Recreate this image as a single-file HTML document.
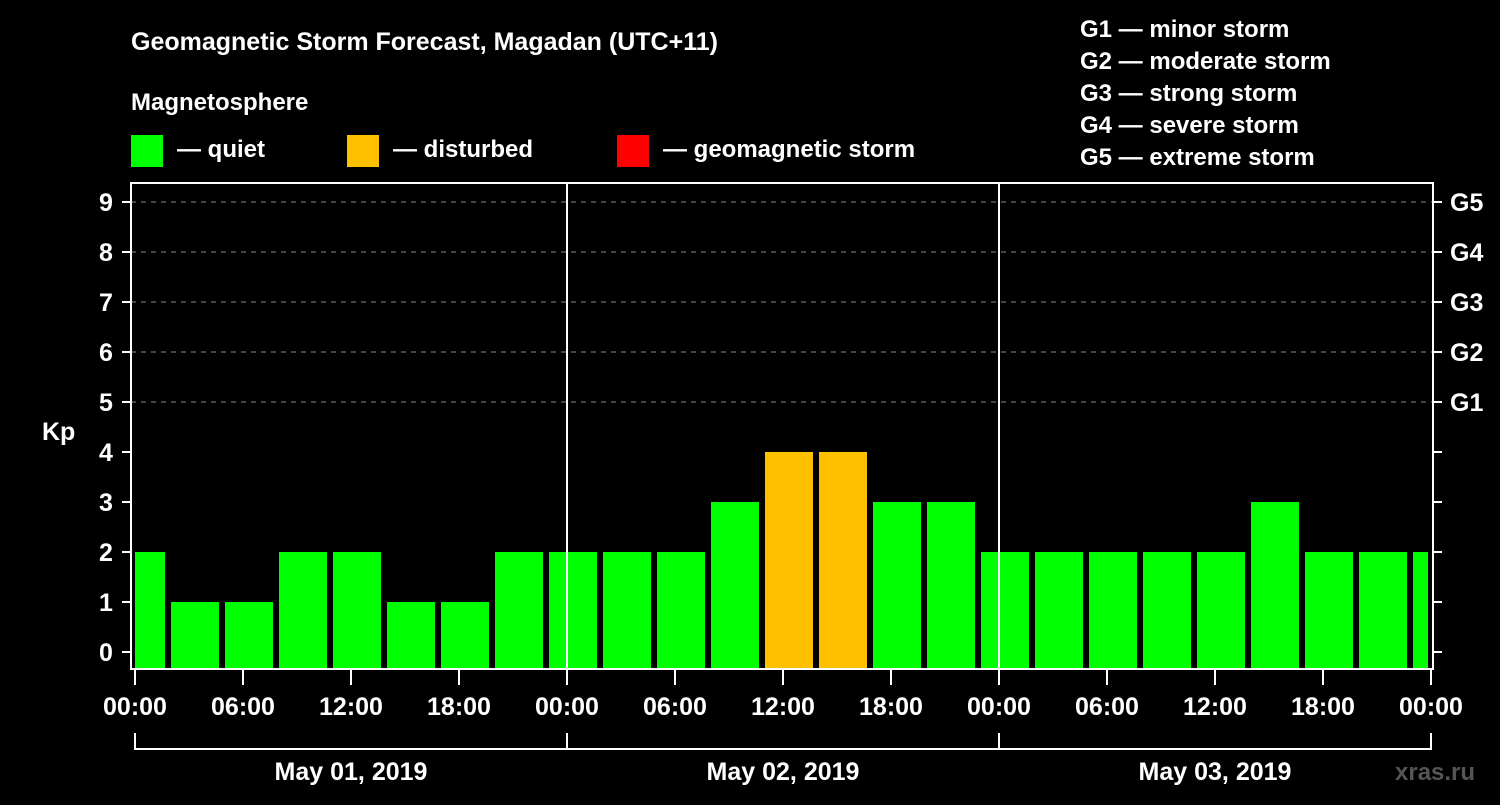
<!DOCTYPE html>
<html><head><meta charset="utf-8"><style>
body{margin:0;background:#000;width:1500px;height:800px;overflow:hidden}
svg text{font-family:"Liberation Sans",sans-serif;font-weight:bold;fill:#fff}
</style></head><body>
<svg id="c" width="1500" height="800">
<text x="131" y="50" font-size="25">Geomagnetic Storm Forecast, Magadan (UTC+11)</text>
<text x="131" y="110" font-size="24">Magnetosphere</text>
<rect x="131" y="135" width="32" height="32" fill="#00ff00"/>
<text x="177" y="157" font-size="24">— quiet</text>
<rect x="347" y="135" width="32" height="32" fill="#ffc000"/>
<text x="393" y="157" font-size="24">— disturbed</text>
<rect x="617" y="135" width="32" height="32" fill="#ff0000"/>
<text x="663" y="157" font-size="24">— geomagnetic storm</text>
<g font-size="24">
<text x="1080" y="37">G1 — minor storm</text>
<text x="1080" y="69">G2 — moderate storm</text>
<text x="1080" y="101">G3 — strong storm</text>
<text x="1080" y="133">G4 — severe storm</text>
<text x="1080" y="165">G5 — extreme storm</text>
</g>
<text x="42" y="440" font-size="25">Kp</text>
<text x="1395" y="780" font-size="24" style="fill:#555">xras.ru</text>
<g id="bars"></g><g id="axes"></g>
</svg>
<script>
const values=[2,1,1,2,2,1,1,2,2,2,2,3,4,4,3,3,2,2,2,2,2,3,2,2,2];
const timeLabels=["00:00","06:00","12:00","18:00","00:00","06:00","12:00","18:00","00:00","06:00","12:00","18:00","00:00"];
const dayLabels=["May 01, 2019","May 02, 2019","May 03, 2019"];
const gLabels=["G1","G2","G3","G4","G5"];
const kpTicks=[0,1,2,3,4,5,6,7,8,9];
const NS="http://www.w3.org/2000/svg";
const X0=135,DAY=432,L=131,R=1433,T=183,B=669;
const xh=h=>X0+h*DAY/24;
const y=v=>652-50*v;
function mk(p,tag,a){const e=document.createElementNS(NS,tag);for(const k in a)e.setAttribute(k,a[k]);p.appendChild(e);return e;}
const bars=document.getElementById('bars'),ax=document.getElementById('axes');
// grid
kpTicks.forEach(v=>{if(v>=5){const g=mk(ax,'line',{x1:L,x2:R,y1:y(v),y2:y(v),stroke:'#888','stroke-dasharray':'5 5','stroke-width':1});

}});
values.forEach((v,i)=>{let a=xh(3*i-0.5)-9,b=xh(3*i-0.5)+39;a=Math.max(a,X0);b=Math.min(b,1428);
const r=mk(bars,'rect',{x:a,y:y(v),width:b-a,height:B-y(v),fill:v>=5?'#ff0000':v>=4?'#ffc000':'#00ff00'});

});
// day separators
[1,2].forEach(d=>{const l=mk(ax,'line',{x1:xh(24*d),x2:xh(24*d),y1:T,y2:B,stroke:'#fff','stroke-width':2});

});
const fr=mk(ax,'rect',{x:L,y:T,width:R-L,height:B-T,fill:'none',stroke:'#fff','stroke-width':2});


kpTicks.forEach(v=>{mk(ax,'line',{x1:122,x2:L,y1:y(v),y2:y(v),stroke:'#fff','stroke-width':2});
mk(ax,'line',{x1:R,x2:1442,y1:y(v),y2:y(v),stroke:'#fff','stroke-width':2});
const t=mk(ax,'text',{x:106,y:y(v)+9,'font-size':25,'text-anchor':'middle'});t.textContent=v;


if(v>=5){const g=mk(ax,'text',{x:1450,y:y(v)+9,'font-size':25});g.textContent=gLabels[v-5];

}});
timeLabels.forEach((s,i)=>{const x=xh(6*i);mk(ax,'line',{x1:x,x2:x,y1:B,y2:685,stroke:'#fff','stroke-width':2});
const t=mk(ax,'text',{x:x,y:715,'font-size':25,'text-anchor':'middle'});t.textContent=s;

});
mk(ax,'line',{x1:X0,x2:xh(72),y1:749,y2:749,stroke:'#fff','stroke-width':2});
[0,1,2,3].forEach(d=>mk(ax,'line',{x1:xh(24*d),x2:xh(24*d),y1:733,y2:750,stroke:'#fff','stroke-width':2}));
dayLabels.forEach((s,i)=>{const t=mk(ax,'text',{x:xh(24*i+12),y:780,'font-size':25,'text-anchor':'middle'});t.textContent=s;

});
</script>
</body></html>
